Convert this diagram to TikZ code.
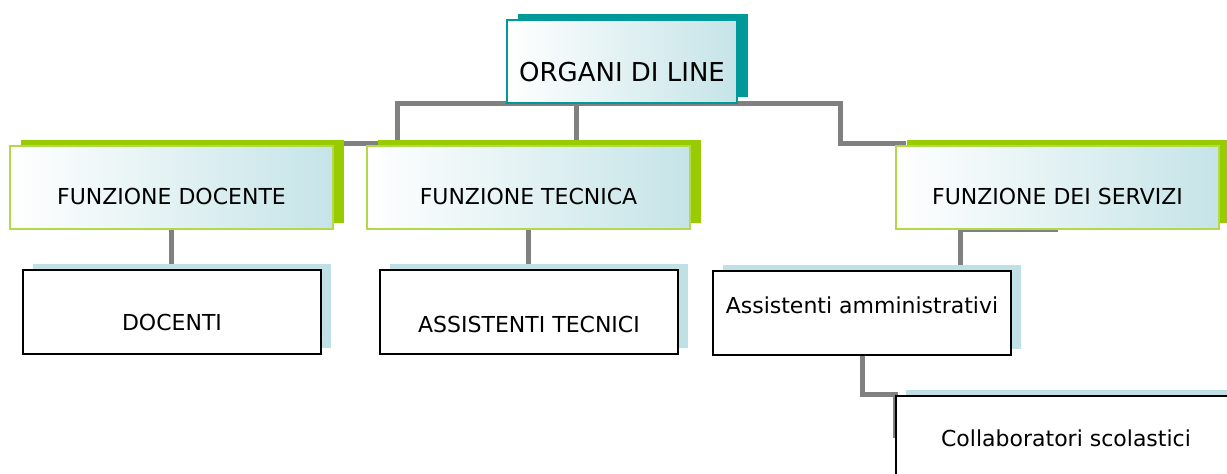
\documentclass[tikz,border=0pt]{standalone}
\usepackage{fontspec}
\setmainfont{DejaVu Sans}
\usetikzlibrary{shadows,backgrounds}
\definecolor{headteal}{HTML}{009999}
\definecolor{funzgreen}{HTML}{99CC00}
\definecolor{funzborder}{HTML}{B2D94A}
\definecolor{paleblue}{HTML}{BFE1E5}
\definecolor{linegray}{HTML}{808080}
\begin{document}
\begin{tikzpicture}
[x=0.5pt,y=-0.5pt,
  headdecorate/.style={draw=headteal,line width=1pt,left color=white,right color=paleblue!90,
    general shadow={fill=headteal,shadow xshift=5.25pt,shadow yshift=3pt},
    inner sep=0pt,minimum width=115pt,text height=31pt,text depth=10.5pt,
    font=\fontsize{13}{15}\selectfont},%
  funzdecorate/.style={draw=funzborder,line width=1pt,left color=white,right color=paleblue!90,
    general shadow={fill=funzgreen,shadow xshift=5.25pt,shadow yshift=3pt},
    inner sep=0pt,minimum width=161.5pt,text height=29.5pt,text depth=12pt,
    font=\fontsize{11}{13}\selectfont},%
  boxdecorate/.style={draw=black,line width=1pt,fill=white,
    general shadow={fill=paleblue,shadow xshift=5pt,shadow yshift=2.75pt},
    inner sep=0pt,font=\fontsize{11}{13}\selectfont},%
  linedecorate/.style={draw=linegray,line width=2.5pt}]
\useasboundingbox (0,0) rectangle (1227,474);
\clip (0,0) rectangle (1227,474);
%% boxes or vertices
\node (organi) at (622,61.5) [headdecorate] {ORGANI DI LINE};
\foreach \nodename/\x/\words in {
  fundocente/171.5/FUNZIONE DOCENTE, funtecnica/528.5/FUNZIONE TECNICA,
  funservizi/1057.5/FUNZIONE DEI SERVIZI}
{
  \node (\nodename) at (\x,187.5) [funzdecorate] {\words};
}
\foreach \nodename/\x/\y/\wide/\up/\down/\words in {
  docenti/172/312/149/30.5/11.5/DOCENTI,
  asstecnici/529/312/149/31.5/10.5/ASSISTENTI TECNICI,
  assamm/862/313/149/21.5/20.5/Assistenti amministrativi,
  collab/1066/438/170/25.5/16.5/Collaboratori scolastici}
{
  \node (\nodename) at (\x,\y) [boxdecorate,minimum width=\wide pt,
    text height=\up pt,text depth=\down pt] {\words};
}
%% edges or lines, behind the boxes
\coordinate (leftbar) at (397,144);
\coordinate (rightbar) at (840,144);
\coordinate (servbar) at (960,271);
\begin{scope}[on background layer]
  \draw[linedecorate] (organi.south) -| (leftbar) -- (leftbar -| fundocente.east) -- ++(10,0);
  \draw[linedecorate] (organi.south -| 576,0) -- (576,0 |- funtecnica.north);
  \draw[linedecorate] (organi.south) -| (rightbar) -- (rightbar -| funservizi.west) -- ++(11,0);
  \draw[linedecorate] (fundocente.south) -- (fundocente.south |- docenti.north);
  \draw[linedecorate] (funtecnica.south) -- (funtecnica.south |- asstecnici.north);
  \draw[linedecorate] (funservizi.south) -| (servbar);
  \draw[linedecorate] (assamm.south) |- (collab.north west) -- (collab.west);
\end{scope}
\end{tikzpicture}
\end{document}
